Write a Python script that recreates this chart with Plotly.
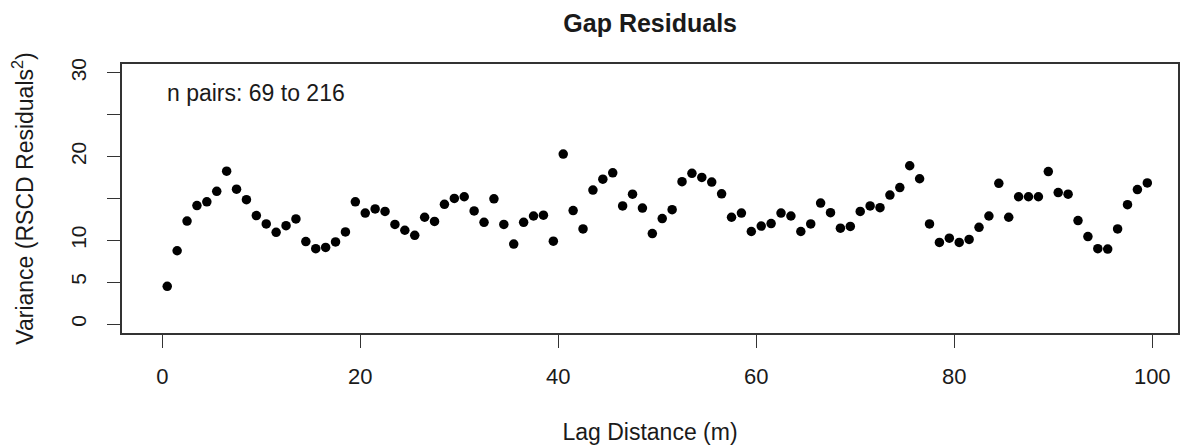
import plotly.graph_objects as go

# Lag distance bin centres (m)
lag_m = [
    0.5, 1.5, 2.5, 3.5, 4.5, 5.5, 6.5, 7.5, 8.5, 9.5,
    10.5, 11.5, 12.5, 13.5, 14.5, 15.5, 16.5, 17.5, 18.5, 19.5,
    20.5, 21.5, 22.5, 23.5, 24.5, 25.5, 26.5, 27.5, 28.5, 29.5,
    30.5, 31.5, 32.5, 33.5, 34.5, 35.5, 36.5, 37.5, 38.5, 39.5,
    40.5, 41.5, 42.5, 43.5, 44.5, 45.5, 46.5, 47.5, 48.5, 49.5,
    50.5, 51.5, 52.5, 53.5, 54.5, 55.5, 56.5, 57.5, 58.5, 59.5,
    60.5, 61.5, 62.5, 63.5, 64.5, 65.5, 66.5, 67.5, 68.5, 69.5,
    70.5, 71.5, 72.5, 73.5, 74.5, 75.5, 76.5, 77.5, 78.5, 79.5,
    80.5, 81.5, 82.5, 83.5, 84.5, 85.5, 86.5, 87.5, 88.5, 89.5,
    90.5, 91.5, 92.5, 93.5, 94.5, 95.5, 96.5, 97.5, 98.5, 99.5,
]

# Variance of RSCD residuals per lag bin
variance = [
    4.5, 8.75, 12.3, 14.15, 14.6, 15.85, 18.25, 16.1, 14.85, 12.95,
    11.95, 10.95, 11.75, 12.55, 9.85, 9.0, 9.15, 9.8, 11.0, 14.6,
    13.25, 13.75, 13.45, 11.9, 11.2, 10.6, 12.75, 12.25, 14.3, 15.0,
    15.2, 13.5, 12.15, 14.95, 11.9, 9.55, 12.15, 12.9, 13.0, 9.9,
    20.3, 13.55, 11.35, 16.0, 17.3, 18.05, 14.1, 15.5, 13.85, 10.8,
    12.6, 13.65, 17.0, 18.0, 17.5, 16.95, 15.55, 12.75, 13.25, 11.05,
    11.7, 12.0, 13.25, 12.9, 11.05, 11.95, 14.45, 13.3, 11.45, 11.65,
    13.45, 14.1, 13.9, 15.4, 16.3, 18.9, 17.35, 11.95, 9.75, 10.25,
    9.75, 10.1, 11.55, 12.9, 16.8, 12.75, 15.2, 15.2, 15.2, 18.2,
    15.7, 15.5, 12.35, 10.45, 9.0, 8.95, 11.35, 14.25, 16.05, 16.85,
]

x_ticks = [0, 20, 40, 60, 80, 100]
y_ticks = [0, 5, 10, 15, 20, 25, 30]
y_tick_text = ["0", "5", "10", "", "20", "", "30"]

FONT = "Liberation Sans, Arial, Helvetica, sans-serif"
INK = "#1a1a1a"

fig = go.Figure(
    go.Scatter(
        x=lag_m,
        y=variance,
        mode="markers",
        marker=dict(size=9.5, color="black", line=dict(width=0)),
        hoverinfo="x+y",
    )
)

fig.update_layout(
    width=1188,
    height=445,
    margin=dict(l=122, r=10, t=64, b=112),
    paper_bgcolor="white",
    plot_bgcolor="white",
    showlegend=False,
    font=dict(family=FONT, color=INK, size=22),
    title=dict(
        text="<b>Gap Residuals</b>",
        x=0.5473,
        xanchor="center",
        y=0.948,
        yanchor="middle",
        font=dict(size=25, family=FONT, color=INK),
    ),
)

fig.update_xaxes(
    range=[-4.07, 102.6],
    automargin=False,
    tickmode="array",
    tickvals=x_ticks,
    ticks="outside",
    ticklen=13,
    tickwidth=1.3,
    tickcolor="#333",
    showgrid=False,
    zeroline=False,
    showline=True,
    linecolor="#333",
    linewidth=1.6,
    mirror=True,
    ticklabelstandoff=10,
    tickfont=dict(size=22),
    title=dict(text="Lag Distance (m)", font=dict(size=23), standoff=38),
)

fig.update_yaxes(
    range=[-1.07, 31.05],
    automargin=False,
    tickmode="array",
    tickvals=y_ticks,
    ticktext=y_tick_text,
    tickangle=-90,
    ticks="outside",
    ticklen=13,
    tickwidth=1.3,
    tickcolor="#333",
    showgrid=False,
    zeroline=False,
    showline=True,
    linecolor="#333",
    linewidth=1.6,
    mirror=True,
    ticklabelstandoff=13,
    tickfont=dict(size=21),
    title=dict(text="Variance (RSCD Residuals<sup>2</sup>)", font=dict(size=23), standoff=27),
)

fig.add_annotation(
    text="n pairs: 69 to 216",
    xref="paper",
    yref="paper",
    x=0.0407,
    y=0.892,
    xanchor="left",
    yanchor="middle",
    showarrow=False,
    font=dict(size=23, family=FONT, color=INK),
)

fig.write_html("out.html")
